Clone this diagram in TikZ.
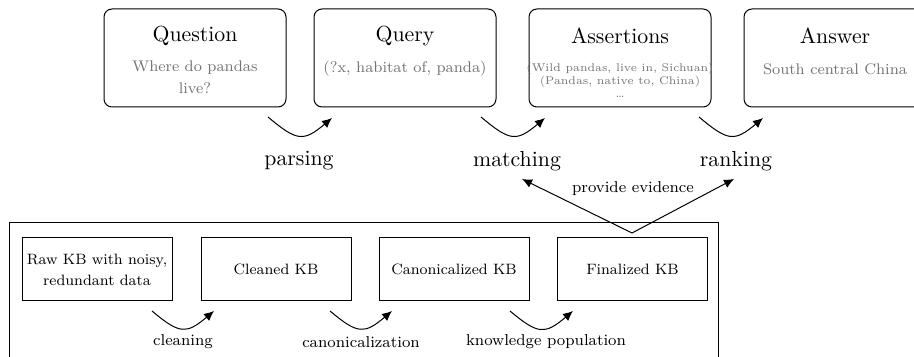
\documentclass[tikz,border=0pt]{standalone}
\usetikzlibrary{arrows.meta}
\definecolor{subgray}{gray}{0.45}
\tikzset{
  qbox/.style={draw, rounded corners=4pt, line width=0.5pt, minimum width=91pt, minimum height=49pt, inner sep=0pt},
  kbbox/.style={draw, line width=0.5pt, minimum width=75pt, minimum height=31.5pt, inner sep=0pt, align=center, font=\fontsize{7.5}{10.5}\selectfont},
  titletext/.style={font=\fontsize{10.9}{12.6}\selectfont, inner sep=0pt},
  subtext/.style={font=\fontsize{7.7}{11}\selectfont, text=subgray, align=center, inner sep=0pt},
  smalltext/.style={font=\fontsize{5.6}{6.5}\selectfont, text=subgray, align=center, inner sep=0pt},
  biglabel/.style={font=\fontsize{10.9}{12.6}\selectfont, inner sep=0pt},
  smalllabel/.style={font=\fontsize{7.9}{10}\selectfont, inner sep=0pt},
  curvearrow/.style={line width=0.5pt, -{Latex[length=5pt,width=4.5pt]}, out=-40, in=-140, looseness=1.5},
  evid/.style={line width=0.5pt, -{Latex[length=5pt,width=4.5pt]}}
}
\begin{document}
\begin{tikzpicture}[x=0.5pt,y=-0.5pt]
\clip (0,0) rectangle (914,357);
% top row
\node[qbox] (question) at (195,58) {};
\node[qbox] (query) at (405,58) {};
\node[qbox] (assert) at (620,58) {};
\node[qbox] (answer) at (835,58) {};
\node[titletext] (tq) at (195,36) {Question};
\node[titletext] (tqu) at (405,36) {Query};
\node[titletext] (ta) at (620,36) {Assertions};
\node[titletext] (tan) at (835,36) {Answer};
\node[subtext] (sq) at (195,77) {Where do pandas\\live?};
\node[subtext] (squ) at (405,69) {(?x, habitat of, panda)};
\node[smalltext] (sa) at (620,80) {(Wild pandas, live in, Sichuan)\\(Pandas, native to, China)\\\dots};
\node[subtext] (san) at (835,69) {South central China};
% top arrows
\coordinate (p1) at (268,117); \coordinate (p2) at (332,118);
\coordinate (m1) at (481,117); \coordinate (m2) at (545,118);
\coordinate (r1) at (699,117); \coordinate (r2) at (763,118);
\draw[curvearrow] (p1) to (p2);
\draw[curvearrow] (m1) to (m2);
\draw[curvearrow] (r1) to (r2);
\node[biglabel] (parsing) at (299,161) {parsing};
\node[biglabel] (matching) at (517,161) {matching};
\node[biglabel] (ranking) at (736,161) {ranking};
% bottom
\node[draw, line width=0.5pt, minimum width=354.5pt, minimum height=80pt, inner sep=0pt] (outer) at (363.5,303) {};
\node[kbbox] (raw) at (97,269.5) {Raw KB with noisy,\\redundant data};
\node[kbbox] (clean) at (276,269.5) {Cleaned KB};
\node[kbbox] (canon) at (454,269.5) {Canonicalized KB};
\node[kbbox] (final) at (632.5,269.5) {Finalized KB};
\coordinate (c1) at (152,311); \coordinate (c2) at (214,311);
\coordinate (k1) at (330,311); \coordinate (k2) at (392,311);
\coordinate (n1) at (510,311); \coordinate (n2) at (573,311);
\draw[curvearrow] (c1) to (c2);
\draw[curvearrow] (k1) to (k2);
\draw[curvearrow] (n1) to (n2);
\node[smalllabel] (lclean) at (183,342) {cleaning};
\node[smalllabel] (lcanon) at (361,342) {canonicalization};
\node[smalllabel] (lpop) at (546,342) {knowledge population};
% provide evidence
\coordinate (ev) at (632,233);
\coordinate (evl) at (522,179);
\coordinate (evr) at (734,179);
\draw[evid] (ev) -- (evl);
\draw[evid] (ev) -- (evr);
\node[smalllabel] (lev) at (633,189) {provide evidence};
\end{tikzpicture}
\end{document}
